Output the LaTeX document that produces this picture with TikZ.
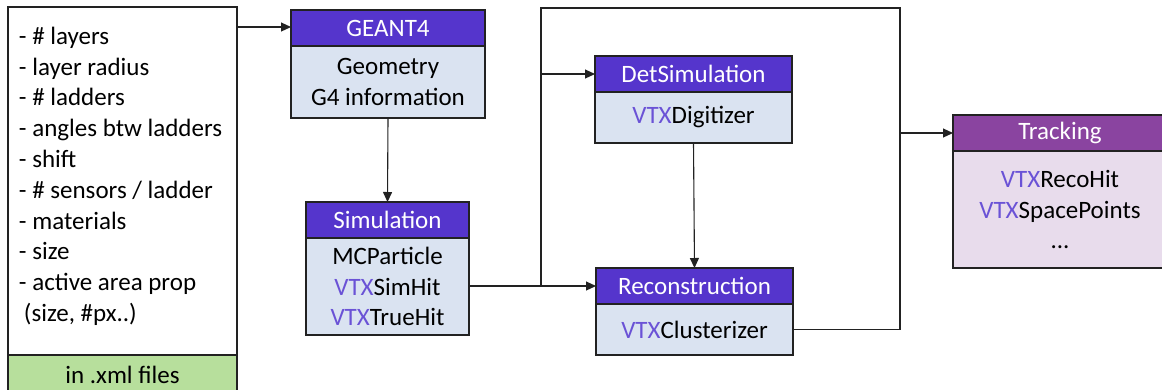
\documentclass[tikz,border=0pt]{standalone}
\usepackage{fontspec}
\setmainfont{Carlito}
\usetikzlibrary{arrows.meta,calc}
\definecolor{hdrblue}{HTML}{5535CC}
\definecolor{bodyblue}{HTML}{DAE3F1}
\definecolor{hdrpurple}{HTML}{8A44A0}
\definecolor{bodypurple}{HTML}{E8DCEC}
\definecolor{footgreen}{HTML}{B7DF9C}
\definecolor{vtx}{HTML}{6A52D6}
\definecolor{edge}{HTML}{222222}
\newcommand{\vtx}{\textcolor{vtx}{VTX}}
\begin{document}
\begin{tikzpicture}[x=1pt,y=-1pt,
  box/.style={draw=edge, line width=1.4pt, inner sep=0pt, outer sep=0pt, anchor=north west},
  hdr/.style={box, text=white, font=\fontsize{25}{28}\selectfont},
  bodytxt/.style={box, text=black, align=center, font=\fontsize{25}{30.5}\selectfont},
  conn/.style={draw=edge, line width=1.1pt},
  arr/.style={conn, -{Triangle[length=10pt,width=9pt]}}]
\useasboundingbox (0,0) rectangle (1162,389);
% left parameter box
\node[box, fill=white, minimum width=229, minimum height=348] (par) at (8,7) {};
\node[box, draw=none, anchor=north west, align=left, font=\fontsize{25}{30.8}\selectfont] (partxt) at (19,27)
 {- \# layers\\- layer radius\\- \# ladders\\- angles btw ladders\\- shift\\- \# sensors / ladder\\- materials\\- size\\- active area prop\\\hspace{5pt}(size, \#px..)};
\node[box, fill=footgreen, minimum width=229, minimum height=40, font=\fontsize{25}{28}\selectfont] (foot) at (8,355) {in .xml files};
% GEANT4
\node[hdr, fill=hdrblue, minimum width=194, minimum height=36] (g4h) at (291,10) {GEANT4};
\node[bodytxt, fill=bodyblue, minimum width=194, minimum height=72, anchor=north] (g4b) at (g4h.south) {Geometry\\G4 information};
% Simulation
\node[hdr, fill=hdrblue, minimum width=163, minimum height=36] (simh) at (306,202) {Simulation};
\node[bodytxt, fill=bodyblue, minimum width=163, minimum height=97, anchor=north] (simb) at (simh.south) {MCParticle\\\vtx SimHit\\\vtx TrueHit};
% DetSimulation
\node[hdr, fill=hdrblue, minimum width=197, minimum height=36] (deth) at (595,56) {DetSimulation};
\node[bodytxt, fill=bodyblue, minimum width=197, minimum height=51, anchor=north] (detb) at (deth.south) {\vtx Digitizer};
% Reconstruction
\node[hdr, fill=hdrblue, minimum width=197, minimum height=36] (recoh) at (596,268) {Reconstruction};
\node[bodytxt, fill=bodyblue, minimum width=197, minimum height=51, anchor=north] (recob) at (recoh.south) {\vtx Clusterizer};
% Tracking
\node[hdr, fill=hdrpurple, minimum width=214, minimum height=36] (trkh) at (953,115) {Tracking};
\node[bodytxt, fill=bodypurple, minimum width=214, minimum height=117, anchor=north] (trkb) at (trkh.south) {\vtx RecoHit\\\vtx SpacePoints\\...};
% connectors
\coordinate (parout) at ($(par.north east)+(0,20)$);
\draw[arr] (parout) -- (parout -| g4h.west);
\draw[arr] (g4b.south) -- (simh.north);
\coordinate (j1) at (541,0 |- recoh.west);
\coordinate (top1) at (541,8);
\coordinate (top2) at (900,8);
\coordinate (j2) at (900,0 |- recob.east);
\draw[arr] (simb.east |- recoh.west) -- (recoh.west);
\draw[conn] (j1) -- (top1) -- (top2) -- (j2) -- (recob.east);
\draw[arr] (top1 |- deth.west) -- (deth.west);
\draw[arr] (detb.south) -- (recoh.north);
\draw[arr] (top2 |- trkh.west) -- (trkh.west);
\end{tikzpicture}
\end{document}
